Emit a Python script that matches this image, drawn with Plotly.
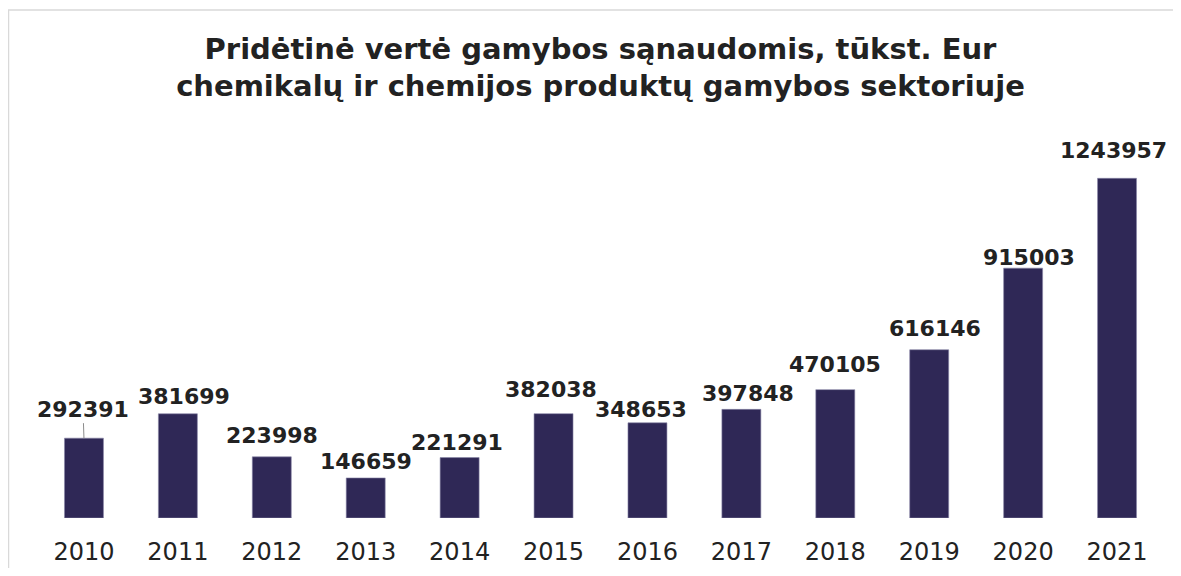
import plotly.graph_objects as go

years = ["2010", "2011", "2012", "2013", "2014", "2015", "2016", "2017", "2018", "2019", "2020", "2021"]
values = [292391, 381699, 223998, 146659, 221291, 382038, 348653, 397848, 470105, 616146, 915003, 1243957]

# label placement tweaks (pixels) to mimic the reference layout
label_dy = [29, 17, 21, 16, 15, 24, 13, 16, 25, 21, 11, 28]
label_dx = [-1, 6, 0, 0, -3, -3, -6, 7, 0, 6, 6, -4]

BAR = "#2F2856"
TXT = "#222222"

fig = go.Figure()
fig.add_trace(go.Bar(x=years, y=values, marker=dict(color=BAR, line=dict(color="#8a86a8", width=0.6)),
                     width=0.415, hoverinfo="x+y"))

for i, v in enumerate(values):
    if i == 0:
        fig.add_annotation(x=i, y=v, text=f"<b>{v}</b>", showarrow=True, arrowhead=0,
                           arrowwidth=1, arrowcolor="#8c8c8c", ax=label_dx[i], ay=-label_dy[i],
                           standoff=0,
                           font=dict(family="DejaVu Sans", size=22, color=TXT))
    else:
        fig.add_annotation(x=i, y=v, text=f"<b>{v}</b>", showarrow=False, yanchor="middle",
                           yshift=label_dy[i], xshift=label_dx[i],
                           font=dict(family="DejaVu Sans", size=22, color=TXT))

# the page body adds an 8px offset, so the figure is 8px smaller
W, H = 1165, 560
L, R, T, B = 29, 9, 155, 50
pw, ph = W - L - R, H - T - B

def px_to_paper_x(px):
    return (px - L) / pw

def px_to_paper_y(py):
    return (H - B - py) / ph

fig.add_shape(type="rect", xref="paper", yref="paper",
              x0=px_to_paper_x(0.5), x1=px_to_paper_x(1180),
              y0=px_to_paper_y(590), y1=px_to_paper_y(2),
              line=dict(color="#D9D9D9", width=1.5), fillcolor="rgba(0,0,0,0)", layer="below")

fig.update_layout(
    width=W, height=H,
    margin=dict(l=L, r=R, t=T, b=B, autoexpand=False),
    paper_bgcolor="white", plot_bgcolor="white",
    title=dict(text="<b>Pridėtinė vertė gamybos sąnaudomis, tūkst. Eur<br>chemikalų ir chemijos produktų gamybos sektoriuje</b>",
               x=0.5, xref="paper", xanchor="center", y=1 - 50.5 / H, yref="container", yanchor="middle",
               font=dict(family="DejaVu Sans", size=29, color=TXT)),
    xaxis=dict(type="category", range=[-0.5, 11.5], showline=False, showgrid=False, ticks="",
               ticklabelstandoff=17, automargin=False,
               tickfont=dict(family="DejaVu Sans", size=24, color=TXT)),
    yaxis=dict(range=[0, 1300000], visible=False, showgrid=False, zeroline=False, automargin=False),
    showlegend=False,
)

fig.write_html("out.html")
